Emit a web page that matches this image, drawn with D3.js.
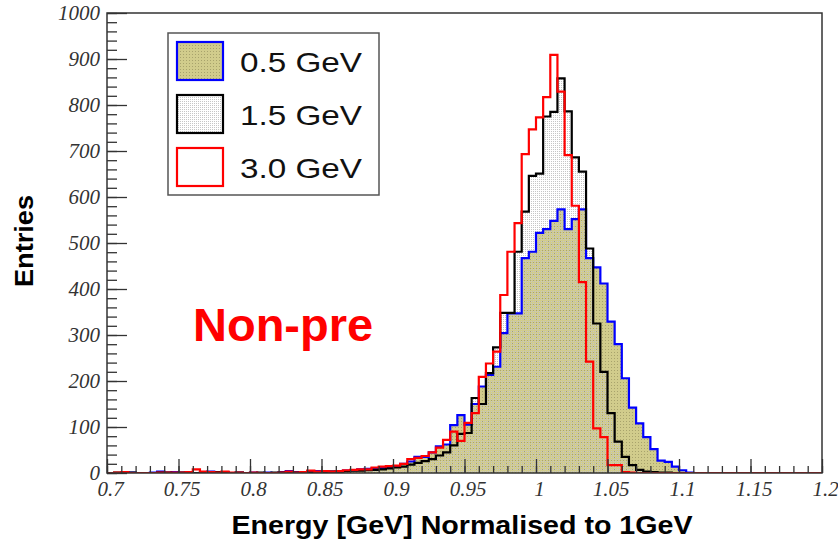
<!DOCTYPE html>
<html>
<head>
<meta charset="utf-8">
<script src="https://cdnjs.cloudflare.com/ajax/libs/d3/7.8.5/d3.min.js"></script>
<style>
  body { margin: 0; background: #fff; }
  .tick text { font-family: "Liberation Serif", "DejaVu Serif", serif; font-style: italic; }
</style>
</head>
<body>
<div class="hist"></div>
<script>
var svgWidth = 838;
var svgHeight = 547;

var chartMargin = {
  top: 13,
  right: 16,
  bottom: 74,
  left: 107
};

var chartWidth = svgWidth - chartMargin.left - chartMargin.right;
var chartHeight = svgHeight - chartMargin.top - chartMargin.bottom;

// binning: 100 bins of 0.005 from 0.7 to 1.2
var binStart = 0.7;
var binWidth = 0.005;

// entries per bin
var counts05 = [
  0, 0, 2, 1, 0, 0, 1, 3, 1, 2,
  1, 2, 0, 1, 3, 1, 2, 0, 1, 0,
  1, 0, 1, 0, 2, 4, 2, 1, 3, 4,
  3, 3, 4, 5, 6, 8, 9, 10, 11, 12,
  14, 20, 25, 35, 35, 45, 58, 62, 104, 126,
  105, 150, 188, 213, 231, 304, 347, 347, 467, 481,
  522, 530, 548, 573, 530, 552, 573, 467, 447, 412,
  329, 280, 206, 142, 108, 78, 52, 27, 24, 14,
  6, 1, 0, 0, 0, 0, 0, 0, 0, 0,
  0, 0, 0, 0, 0, 0, 0, 0, 0, 0
];
var counts15 = [
  0, 1, 0, 1, 0, 0, 0, 1, 1, 0,
  1, 0, 0, 1, 1, 2, 1, 0, 1, 0,
  0, 1, 0, 1, 1, 2, 1, 2, 1, 2,
  2, 3, 3, 4, 5, 5, 6, 7, 8, 10,
  12, 14, 18, 22, 26, 30, 38, 45, 60, 85,
  87, 163, 150, 217, 273, 348, 348, 481, 568, 646,
  651, 775, 785, 858, 786, 686, 655, 488, 325, 220,
  130, 68, 35, 17, 7, 3, 2, 1, 1, 0,
  0, 0, 0, 0, 0, 0, 0, 0, 0, 0,
  0, 0, 0, 0, 0, 0, 0, 0, 0, 0
];
var counts30 = [
  0, 1, 2, 0, 0, 0, 0, 1, 1, 1,
  1, 2, 8, 3, 2, 1, 3, 1, 1, 0,
  1, 0, 0, 0, 1, 3, 1, 2, 5, 3,
  4, 3, 4, 6, 7, 8, 8, 12, 14, 15,
  16, 20, 30, 33, 37, 45, 55, 72, 90, 70,
  109, 130, 209, 238, 264, 387, 481, 543, 693, 747,
  773, 817, 909, 829, 691, 581, 415, 242, 97, 78,
  17, 17, 2, 1, 0, 0, 0, 0, 0, 0,
  0, 0, 0, 0, 0, 0, 0, 0, 0, 0,
  0, 0, 0, 0, 0, 0, 0, 0, 0, 0
];

var xTicks = [0.7, 0.75, 0.8, 0.85, 0.9, 0.95, 1.0, 1.05, 1.1, 1.15, 1.2];
var xTickLabels = ["0.7", "0.75", "0.8", "0.85", "0.9", "0.95", "1", "1.05", "1.1", "1.15", "1.2"];
var yTicks = [0, 100, 200, 300, 400, 500, 600, 700, 800, 900, 1000];
var yTickLabels = ["0", "100", "200", "300", "400", "500", "600", "700", "800", "900", "1000"];
var legendLabels = ["0.5 GeV", "1.5 GeV", "3.0 GeV"];

var svg = d3
  .select(".hist")
  .append("svg")
  .attr("height", svgHeight)
  .attr("width", svgWidth);

// fill patterns (ROOT style dotted fills)
var defs = svg.append("defs");

var khaki = defs.append("pattern")
  .attr("id", "khakiDots")
  .attr("patternUnits", "userSpaceOnUse")
  .attr("width", 3)
  .attr("height", 3);
khaki.append("rect").attr("width", 3).attr("height", 3).attr("fill", "#d1cc8c");
khaki.append("rect").attr("width", 1).attr("height", 1).attr("fill", "#a8a36c");

var greyDots = defs.append("pattern")
  .attr("id", "greyDots")
  .attr("patternUnits", "userSpaceOnUse")
  .attr("width", 2)
  .attr("height", 2);
greyDots.append("rect").attr("width", 1).attr("height", 1).attr("fill", "#c6c6c6");

defs.append("clipPath")
  .attr("id", "plotClip")
  .append("rect")
  .attr("width", chartWidth)
  .attr("height", chartHeight);

var chartGroup = svg.append("g")
  .attr("transform", `translate(${chartMargin.left}, ${chartMargin.top})`);

var xLinearScale = d3.scaleLinear()
  .domain([0.7, 1.2])
  .range([0, chartWidth]);

var yLinearScale = d3.scaleLinear()
  .domain([0, 1000])
  .range([chartHeight, 0]);

function stepPoints(counts) {
  var pts = counts.map((c, i) => [binStart + i * binWidth, c]);
  pts.push([binStart + counts.length * binWidth, counts[counts.length - 1]]);
  return pts;
}

var histLine = d3.line()
  .x(d => xLinearScale(d[0]))
  .y(d => yLinearScale(d[1]))
  .curve(d3.curveStepAfter);

var histArea = d3.area()
  .x(d => xLinearScale(d[0]))
  .y0(yLinearScale(0))
  .y1(d => yLinearScale(d[1]))
  .curve(d3.curveStepAfter);

var plot = chartGroup.append("g").attr("clip-path", "url(#plotClip)");

// fills first, outlines on top
plot.append("path")
  .attr("d", histArea(stepPoints(counts05)))
  .attr("fill", "url(#khakiDots)");

plot.append("path")
  .attr("d", histArea(stepPoints(counts15)))
  .attr("fill", "url(#greyDots)");

plot.append("path")
  .attr("d", histLine(stepPoints(counts05)))
  .attr("fill", "none")
  .attr("stroke", "#0000ff")
  .attr("stroke-width", 2.2);

plot.append("path")
  .attr("d", histLine(stepPoints(counts15)))
  .attr("fill", "none")
  .attr("stroke", "#000")
  .attr("stroke-width", 2.2);

plot.append("path")
  .attr("d", histLine(stepPoints(counts30)))
  .attr("fill", "none")
  .attr("stroke", "#ff0000")
  .attr("stroke-width", 2.2);

// axes, ticks pointing inwards
var leftAxis = d3.axisLeft(yLinearScale)
  .tickValues(yTicks)
  .tickFormat((d, i) => yTickLabels[i])
  .tickSize(-20)
  .tickSizeOuter(0)
  .tickPadding(7);

var leftMinor = d3.axisLeft(yLinearScale)
  .tickValues(d3.range(0, 1001, 20))
  .tickSize(-10)
  .tickSizeOuter(0)
  .tickFormat("");

var bottomAxis = d3.axisBottom(xLinearScale)
  .tickValues(xTicks)
  .tickFormat((d, i) => xTickLabels[i])
  .tickSize(-14)
  .tickSizeOuter(0)
  .tickPadding(8);

var bottomMinor = d3.axisBottom(xLinearScale)
  .tickValues(d3.range(0, 51).map(i => 0.7 + i * 0.01))
  .tickSize(-7)
  .tickSizeOuter(0)
  .tickFormat("");

chartGroup.append("g").call(leftMinor);
var yAxis = chartGroup.append("g").call(leftAxis);
chartGroup.append("g")
  .attr("transform", `translate(0, ${chartHeight})`)
  .call(bottomMinor);
var xAxis = chartGroup.append("g")
  .attr("transform", `translate(0, ${chartHeight})`)
  .call(bottomAxis);

chartGroup.selectAll(".tick line").attr("stroke", "#333").attr("stroke-width", 1.3);
chartGroup.selectAll(".domain").remove();
chartGroup.selectAll(".tick text")
  .attr("font-size", 21)
  .attr("fill", "#333");
xAxis.selectAll(".tick text").attr("dx", 3);

// frame
chartGroup.append("rect")
  .attr("width", chartWidth)
  .attr("height", chartHeight)
  .attr("fill", "none")
  .attr("stroke", "#333")
  .attr("stroke-width", 1.5);

// axis titles
svg.append("text")
  .attr("transform", "translate(33, 241) rotate(-90)")
  .attr("text-anchor", "middle")
  .attr("font-family", "Liberation Sans, Arial, sans-serif")
  .attr("font-weight", "bold")
  .attr("font-size", 25)
  .attr("textLength", 92)
  .attr("lengthAdjust", "spacingAndGlyphs")
  .text("Entries");

svg.append("text")
  .attr("x", 462)
  .attr("y", 534)
  .attr("text-anchor", "middle")
  .attr("font-family", "Liberation Sans, Arial, sans-serif")
  .attr("font-weight", "bold")
  .attr("font-size", 25)
  .attr("textLength", 461)
  .attr("lengthAdjust", "spacingAndGlyphs")
  .text("Energy [GeV] Normalised to 1GeV");

// label inside the pad
svg.append("text")
  .attr("x", 193)
  .attr("y", 341)
  .attr("font-family", "Liberation Sans, Arial, sans-serif")
  .attr("font-weight", "bold")
  .attr("font-size", 47)
  .attr("fill", "#ff0000")
  .text("Non-pre");

// legend
var legend = svg.append("g");
legend.append("rect")
  .attr("x", 168)
  .attr("y", 33)
  .attr("width", 211)
  .attr("height", 162)
  .attr("fill", "#fff")
  .attr("stroke", "#555")
  .attr("stroke-width", 1.5);

var legendFills = ["url(#khakiDots)", "url(#greyDots)", "#fff"];
var legendStrokes = ["#0000ff", "#000", "#ff0000"];

var legendRows = legend.selectAll(".row")
  .data(legendLabels)
  .enter()
  .append("g")
  .attr("class", "row")
  .attr("transform", (d, i) => `translate(0, ${42 + i * 53})`);

legendRows.append("rect")
  .attr("x", 177)
  .attr("y", 0)
  .attr("width", 46)
  .attr("height", 38)
  .attr("fill", (d, i) => legendFills[i])
  .attr("stroke", (d, i) => legendStrokes[i])
  .attr("stroke-width", 2.2);

legendRows.append("text")
  .attr("x", 240)
  .attr("y", 30)
  .attr("font-family", "Liberation Sans, Arial, sans-serif")
  .attr("font-size", 28)
  .attr("textLength", 122)
  .attr("lengthAdjust", "spacingAndGlyphs")
  .attr("fill", "#111")
  .text(d => d);
</script>
</body>
</html>
